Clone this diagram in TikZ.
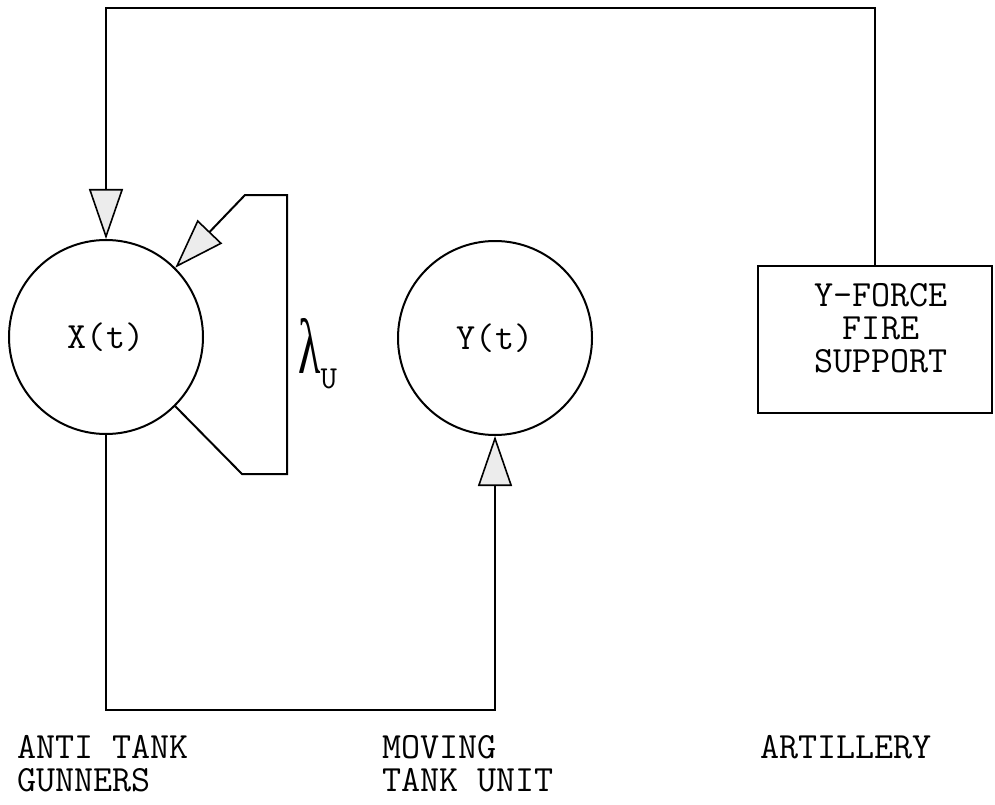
\documentclass[tikz,border=0pt]{standalone}
\usepackage{fontspec}
\newfontfamily\tw{Latin Modern Mono}
\newfontfamily\gk{Liberation Serif}
\usetikzlibrary{arrows.meta}
\begin{document}
\begin{tikzpicture}[x=1pt,y=-1pt,
  conn/.style={line width=2pt, line join=miter},
  tri/.style={-{Triangle[length=50pt,width=34pt,fill=gray!15,line width=1.6pt]}},
  statenode/.style={circle, draw, line width=2pt, minimum size=194pt, inner sep=0pt, font=\tw\fontsize{37}{37}\selectfont},
  boxnode/.style={draw, line width=2pt, minimum width=234pt, minimum height=147pt, inner sep=0pt},
  lbl/.style={font=\tw\fontsize{37}{33}\selectfont, align=left, inner sep=0pt, anchor=north west},
]
\useasboundingbox (0,0) rectangle (995,805);
\fill[white] (0,0) rectangle (995,805);

% states
\node[statenode] (X) at (106,337) {X(t)};
\node[statenode] (Y) at (495,338) {Y(t)};

% fire support box
\node[boxnode] (fs) at (875,339.5) {};
\node[font=\tw\fontsize{37}{33}\selectfont, align=center, inner sep=0pt] (fstext) at (881,328) {Y-FORCE\\FIRE\\SUPPORT};

% feedback from fire support to X
\coordinate (topR) at (875,8);
\coordinate (topL) at (106,8);
\draw[conn,tri] (fs.north) -- (topR) -- (topL) -- (X.north);

% self loop on X
\coordinate (sl1) at (242,474);
\coordinate (sl2) at (287,474);
\coordinate (sl3) at (287,195);
\coordinate (sl4) at (245,195);
\draw[conn,tri] (X.-45) -- (sl1) -- (sl2) -- (sl3) -- (sl4) -- (X.45);

% lambda label
\node[anchor=base west, inner sep=0pt] (lam) at (298,373)
  {\scalebox{1}[1.7]{\gk\fontsize{46}{46}\selectfont λ}\raisebox{-15pt}{\tw\fontsize{32}{32}\selectfont U}};

% X to Y
\coordinate (b1) at (106,710);
\coordinate (b2) at (495,710);
\draw[conn,tri] (X.south) -- (b1) -- (b2) -- (Y.south);

% bottom labels
\node[lbl] (anti) at (17,735) {ANTI TANK\\GUNNERS};
\node[lbl] (moving) at (382,735) {MOVING\\TANK UNIT};
\node[lbl] (artil) at (760,735) {ARTILLERY};
\end{tikzpicture}
\end{document}
